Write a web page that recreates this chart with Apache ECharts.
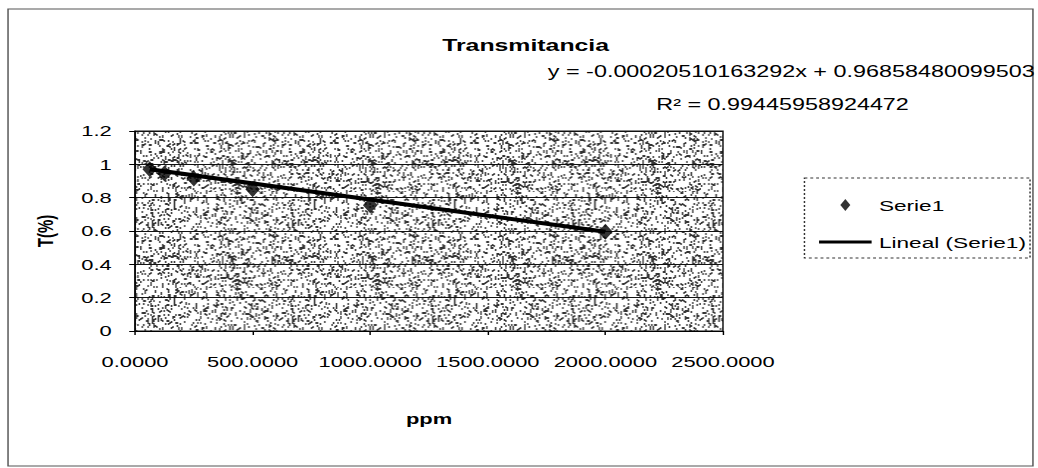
<!DOCTYPE html>
<html>
<head>
<meta charset="utf-8">
<script src="https://cdn.jsdelivr.net/npm/echarts@6/dist/echarts.min.js"></script>
<style>
  html, body { margin: 0; padding: 0; background: #fff; overflow: hidden; }
  /* the scanned chart is stretched sideways, so draw narrow and widen it */
  #chart { width: 711px; height: 468px; transform: scaleX(1.46); transform-origin: 0 0; }
</style>
</head>
<body>
<div id="chart"></div>
<script>
// values
var ppm = [62.5, 125, 250, 500, 1000, 2000]
var transmitancia = [0.97, 0.945, 0.915, 0.85, 0.755, 0.595]
// linear trend line, the two ends
var trendPpm = [62.5, 2000]
var trendT = [0.97, 0.595]
var yTicks = [0, 0.2, 0.4, 0.6, 0.8, 1, 1.2]
var xTicks = [0, 500, 1000, 1500, 2000, 2500]
var ecuacion = 'y = -0.00020510163292x + 0.96858480099503'
var r2 = 'R² = 0.99445958924472'

var font = 'Liberation Sans, Arial, sans-serif'

// gray speckled fill like the old Excel plot area
function stipple () {
  var n = 96
  var c = document.createElement('canvas')
  c.width = n
  c.height = n
  var g = c.getContext('2d')
  g.fillStyle = '#fff'
  g.fillRect(0, 0, n, n)
  g.fillStyle = '#333'
  var s = 11
  for (var i = 0; i < 1250; i++) {
    s = (s * 16807) % 2147483647
    var x = s % n
    s = (s * 16807) % 2147483647
    var y = s % n
    g.fillRect(x, y, 1, 2)
  }
  return c.toDataURL()
}

var myChart = echarts.init(document.getElementById('chart'), null, { renderer: 'svg' })

var option = {
  backgroundColor: '#fff',
  animation: false,
  textStyle: { fontFamily: font, color: '#000' },
  grid: {
    left: 92.5,
    right: 215.8,
    top: 131,
    bottom: 137,
    show: true,
    borderColor: '#111',
    borderWidth: 1,
    backgroundColor: { image: stipple(), repeat: 'repeat' }
  },
  legend: {
    orient: 'vertical',
    left: 556,
    top: 192,
    itemWidth: 36,
    itemHeight: 12,
    itemGap: 21,
    textStyle: { fontFamily: font, fontSize: 15.5, color: '#000' },
    data: [
      { name: 'Serie1', icon: 'path://M4,0 L8,7 L4,14 L0,7 Z' },
      { name: 'Lineal (Serie1)', icon: 'path://M0,0 L36,0 L36,3 L0,3 Z' }
    ]
  },
  xAxis: {
    type: 'value',
    min: xTicks[0],
    max: xTicks[xTicks.length - 1],
    interval: xTicks[1] - xTicks[0],
    name: 'ppm',
    nameLocation: 'middle',
    nameGap: 80,
    nameTextStyle: { fontFamily: font, fontSize: 15, fontWeight: 'bold', color: '#000' },
    axisLine: { lineStyle: { color: '#000', width: 1 } },
    axisTick: { show: true, length: 4, lineStyle: { color: '#000' } },
    axisLabel: {
      margin: 23,
      fontFamily: font,
      fontSize: 15,
      color: '#000',
      formatter: function (v) { return v.toFixed(4) }
    },
    splitLine: { show: false }
  },
  yAxis: {
    type: 'value',
    min: yTicks[0],
    max: yTicks[yTicks.length - 1],
    interval: yTicks[1] - yTicks[0],
    name: 'T(%)',
    nameLocation: 'middle',
    nameGap: 54,
    nameTextStyle: { fontFamily: font, fontSize: 15, fontWeight: 'bold', color: '#000' },
    axisLine: { show: true, lineStyle: { color: '#000', width: 1 } },
    axisTick: { show: true, length: 4, lineStyle: { color: '#000' } },
    axisLabel: { margin: 16, fontFamily: font, fontSize: 15, color: '#000' },
    splitLine: { show: true, lineStyle: { color: '#111', width: 1 } }
  },
  graphic: [
    {
      type: 'rect',
      shape: { x: 5.5, y: 9, width: 702, height: 457 },
      style: { fill: 'none', stroke: '#555', lineWidth: 1 },
      silent: true
    },
    {
      type: 'rect',
      shape: { x: 551, y: 178, width: 154.5, height: 80 },
      style: { fill: 'none', stroke: '#333', lineWidth: 1, lineDash: [2, 2] },
      silent: true
    },
    {
      type: 'text',
      x: 360,
      y: 45,
      style: {
        text: 'Transmitancia',
        font: 'bold 17px ' + font,
        fill: '#000',
        textAlign: 'center',
        textVerticalAlign: 'middle'
      }
    },
    {
      type: 'text',
      x: 542,
      y: 71,
      style: {
        text: ecuacion,
        font: '16px ' + font,
        fill: '#000',
        textAlign: 'center',
        textVerticalAlign: 'middle'
      }
    },
    {
      type: 'text',
      x: 536,
      y: 104,
      style: {
        text: r2,
        font: '16px ' + font,
        fill: '#000',
        textAlign: 'center',
        textVerticalAlign: 'middle'
      }
    }
  ],
  series: [
    {
      name: 'Serie1',
      type: 'scatter',
      symbol: 'diamond',
      symbolSize: [10, 16],
      itemStyle: { color: '#000' },
      z: 3,
      data: ppm.map(function (x, i) { return [x, transmitancia[i]] })
    },
    {
      name: 'Lineal (Serie1)',
      type: 'line',
      symbol: 'none',
      lineStyle: { color: '#000', width: 4 },
      itemStyle: { color: '#000' },
      z: 2,
      data: trendPpm.map(function (x, i) { return [x, trendT[i]] })
    }
  ]
}

myChart.setOption(option)
</script>
</body>
</html>
